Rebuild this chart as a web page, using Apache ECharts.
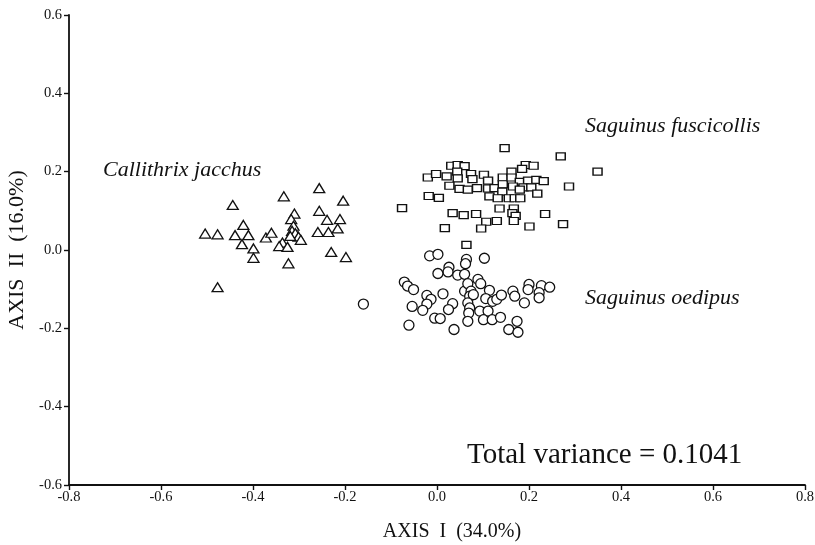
<!DOCTYPE html>
<html>
<head>
<meta charset="utf-8">
<script src="https://cdn.jsdelivr.net/npm/echarts@6.0.0/dist/echarts.min.js"></script>
<style>
  html, body { margin: 0; padding: 0; background: #fff; }
  #chart { width: 815px; height: 545px; }
</style>
</head>
<body>
<div id="chart"></div>
<script>
// Callithrix jacchus scores [axis I, axis II]
const jacchus = [
  [-0.504, 0.042], [-0.477, 0.040], [-0.444, 0.115], [-0.421, 0.064], [-0.439, 0.038],
  [-0.410, 0.038], [-0.424, 0.015], [-0.399, 0.004], [-0.399, -0.020], [-0.477, -0.095],
  [-0.372, 0.032], [-0.360, 0.044], [-0.333, 0.137], [-0.256, 0.158], [-0.204, 0.126],
  [-0.256, 0.100], [-0.310, 0.093], [-0.239, 0.077], [-0.211, 0.079], [-0.317, 0.079],
  [-0.312, 0.062], [-0.259, 0.046], [-0.236, 0.046], [-0.216, 0.055], [-0.315, 0.049],
  [-0.308, 0.043], [-0.301, 0.034], [-0.319, 0.036], [-0.296, 0.026], [-0.336, 0.019],
  [-0.343, 0.010], [-0.325, 0.008], [-0.230, -0.005], [-0.198, -0.018], [-0.323, -0.034]
]

// Saguinus fuscicollis
const fuscicollis = [
  [0.147, 0.260], [-0.076, 0.107], [-0.020, 0.185], [-0.002, 0.194], [0.021, 0.188],
  [0.031, 0.215], [0.045, 0.217], [0.060, 0.214], [0.044, 0.200], [0.045, 0.183],
  [0.074, 0.194], [0.077, 0.181], [0.102, 0.192], [0.111, 0.177], [0.143, 0.185],
  [0.027, 0.164], [0.049, 0.156], [0.067, 0.154], [0.087, 0.158], [0.111, 0.157],
  [0.125, 0.158], [0.143, 0.168], [0.142, 0.149], [0.114, 0.137], [0.132, 0.132],
  [-0.018, 0.138], [0.004, 0.133], [0.034, 0.094], [0.058, 0.089], [0.085, 0.092],
  [0.107, 0.072], [0.130, 0.074], [0.136, 0.106], [0.017, 0.056], [0.096, 0.055],
  [0.269, 0.239], [0.349, 0.200], [0.193, 0.217], [0.210, 0.215], [0.185, 0.207],
  [0.162, 0.200], [0.162, 0.185], [0.180, 0.174], [0.198, 0.177], [0.216, 0.179],
  [0.232, 0.176], [0.165, 0.162], [0.188, 0.160], [0.205, 0.160], [0.287, 0.162],
  [0.180, 0.154], [0.218, 0.144], [0.156, 0.132], [0.169, 0.132], [0.181, 0.132],
  [0.167, 0.106], [0.164, 0.094], [0.171, 0.087], [0.167, 0.074], [0.235, 0.092],
  [0.274, 0.066], [0.201, 0.060], [0.064, 0.013]
]

// Saguinus oedipus
const oedipus = [
  [-0.160, -0.138], [-0.016, -0.015], [0.002, -0.011], [0.026, -0.044], [0.024, -0.056],
  [0.002, -0.060], [0.045, -0.064], [0.060, -0.062], [0.064, -0.024], [0.062, -0.035],
  [0.103, -0.021], [-0.071, -0.082], [-0.064, -0.092], [-0.051, -0.101], [0.013, -0.112],
  [-0.022, -0.116], [-0.013, -0.126], [-0.022, -0.138], [-0.054, -0.144], [-0.031, -0.154],
  [0.034, -0.137], [0.025, -0.152], [-0.005, -0.174], [0.007, -0.175], [-0.061, -0.192],
  [0.037, -0.203], [0.060, -0.105], [0.089, -0.075], [0.095, -0.086], [0.067, -0.086],
  [0.074, -0.105], [0.071, -0.118], [0.079, -0.114], [0.114, -0.103], [0.106, -0.124],
  [0.121, -0.131], [0.130, -0.126], [0.140, -0.115], [0.067, -0.135], [0.071, -0.148],
  [0.069, -0.161], [0.067, -0.182], [0.093, -0.156], [0.111, -0.156], [0.101, -0.178],
  [0.120, -0.178], [0.138, -0.172], [0.165, -0.105], [0.169, -0.118], [0.190, -0.135],
  [0.200, -0.088], [0.198, -0.101], [0.227, -0.091], [0.222, -0.109], [0.222, -0.122],
  [0.245, -0.095], [0.156, -0.203], [0.176, -0.210], [0.174, -0.182]
]

const xTicks = [-0.8, 0.8, 0.2]
const yTicks = [-0.6, 0.6, 0.2]

const SERIF = '"Liberation Serif", "DejaVu Serif", serif'
const INK = '#111'

const chart = echarts.init(document.getElementById('chart'), null, { renderer: 'canvas' })

function outlined(name, data, symbol, size) {
  return {
    name: name,
    type: 'scatter',
    data: data,
    symbol: symbol,
    symbolSize: size,
    itemStyle: { color: '#fff', borderColor: INK, borderWidth: 1.3, opacity: 1 },
    emphasis: { disabled: true }
  }
}

const axisCommon = {
  type: 'value',
  splitLine: { show: false },
  axisLine: { show: true, onZero: false, lineStyle: { color: INK, width: 1.8 } },
  axisTick: { show: true, inside: false, length: 5, lineStyle: { color: INK, width: 1.4 } },
  axisLabel: {
    color: INK, fontFamily: SERIF, fontSize: 14.5,
    formatter: v => v.toFixed(1)
  }
}

chart.setOption({
  animation: false,
  backgroundColor: '#fff',
  // v6 would otherwise shrink the grid to fit the axis names
  grid: { left: 69, right: 10, top: 15, bottom: 60, containLabel: false, outerBoundsMode: 'none' },
  xAxis: Object.assign({}, axisCommon, {
    min: xTicks[0], max: xTicks[1], interval: xTicks[2],
    name: 'AXIS  I  (34.0%)', nameLocation: 'middle', nameGap: 37,
    nameTextStyle: { color: INK, fontFamily: SERIF, fontSize: 20, padding: [0, 0, 0, 30] },
    axisLabel: Object.assign({}, axisCommon.axisLabel, { margin: 5 })
  }),
  yAxis: Object.assign({}, axisCommon, {
    min: yTicks[0], max: yTicks[1], interval: yTicks[2],
    name: 'AXIS  II  (16.0%)', nameLocation: 'middle', nameGap: 41, nameRotate: 90,
    nameTextStyle: { color: INK, fontFamily: SERIF, fontSize: 22 },
    axisLabel: Object.assign({}, axisCommon.axisLabel, { margin: 7 })
  }),
  graphic: [
    { type: 'text', left: 103, top: 159, style: { text: 'Callithrix jacchus', font: 'italic 22px ' + SERIF, fill: INK } },
    { type: 'text', left: 585, top: 115, style: { text: 'Saguinus fuscicollis', font: 'italic 22px ' + SERIF, fill: INK } },
    { type: 'text', left: 585, top: 287, style: { text: 'Saguinus oedipus', font: 'italic 22px ' + SERIF, fill: INK } },
    { type: 'text', left: 467, top: 441, style: { text: 'Total variance = 0.1041', font: '29px ' + SERIF, fill: INK } }
  ],
  series: [
    outlined('Callithrix jacchus', jacchus, 'triangle', [11, 9]),
    outlined('Saguinus fuscicollis', fuscicollis, 'rect', [9, 7]),
    outlined('Saguinus oedipus', oedipus, 'circle', 10)
  ]
})
</script>
</body>
</html>
